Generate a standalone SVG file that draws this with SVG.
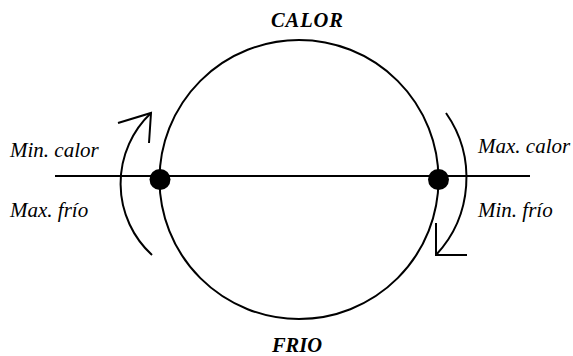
<svg xmlns="http://www.w3.org/2000/svg" width="573" height="356" viewBox="0 0 573 356">
<style>
.ln{fill:none;stroke:#000;stroke-width:2}
.t{font-family:"Liberation Serif",serif;font-style:italic;font-size:21px;fill:#000}
.h{font-family:"Liberation Serif",serif;font-style:italic;font-weight:bold;font-size:20.5px;fill:#000}
</style>
<rect width="573" height="356" fill="#fff"/>
<g id="circle"><circle class="ln" cx="299" cy="179.5" r="139.5"/></g>
<g id="connectors">
<line class="ln" x1="55" y1="176" x2="530" y2="176"/>
<path class="ln" d="M152,255 A97,97 0 0 1 151,113"/>
<path class="ln" d="M118,123 L151,113 L149,143"/>
<path class="ln" d="M446,113 A113,113 0 0 1 436,255"/>
<path class="ln" d="M436,223 L436,255 L467,255"/>
</g>
<g id="dot-left"><circle cx="160" cy="179.5" r="10.5" fill="#000"/></g>
<g id="dot-right"><circle cx="438.5" cy="179.5" r="10.5" fill="#000"/></g>
<g id="labels">
<text class="h" x="307" y="27" text-anchor="middle" textLength="72">CALOR</text>
<text class="h" x="297" y="352" text-anchor="middle">FRIO</text>
<text class="t" x="10" y="157">Min. calor</text>
<text class="t" x="10" y="217">Max. frío</text>
<text class="t" x="478" y="153">Max. calor</text>
<text class="t" x="478" y="217">Min. frío</text>
</g>
</svg>
